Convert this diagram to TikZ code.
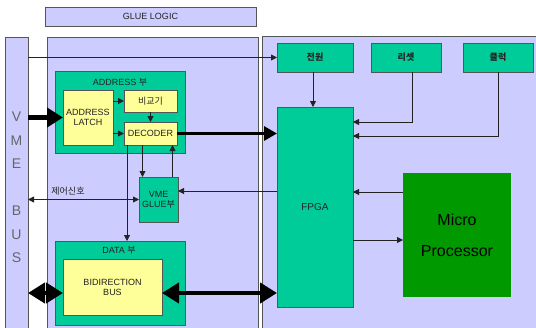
\documentclass[tikz,border=0pt]{standalone}
\usepackage{fontspec}
\setmainfont{Liberation Sans}
\newfontfamily\kr{Noto Sans CJK KR}
\usetikzlibrary{arrows.meta}
\definecolor{lav}{HTML}{CCCCFF}
\definecolor{tgreen}{HTML}{00CC99}
\definecolor{ylw}{HTML}{FFFF99}
\definecolor{dgreen}{HTML}{009900}
\definecolor{edge}{HTML}{555555}
\definecolor{txt}{HTML}{222222}
\begin{document}
\begin{tikzpicture}[x=1pt,y=-1pt,
  every node/.style={inner sep=0pt,outer sep=0pt,anchor=north west,align=center,text=txt,font=\fontsize{9}{10}\selectfont},
  panel/.style={draw=edge,line width=0.9pt,fill=lav},
  gbox/.style={draw=edge,line width=0.8pt,fill=tgreen},
  ybox/.style={draw=edge,line width=0.8pt,fill=ylw},
  thin/.style={draw=txt,line width=0.8pt,-{Triangle[length=6pt,width=6pt]}},
  thinboth/.style={draw=txt,line width=0.8pt,{Triangle[length=6pt,width=6pt]}-{Triangle[length=6pt,width=6pt]}},
  thick/.style={draw=black,line width=3pt,-{Triangle[length=13pt,width=14pt]}},
  thicker/.style={draw=black,line width=4.5pt,-{Triangle[length=16pt,width=19pt]}},
  thickboth/.style={draw=black,line width=4.5pt,{Triangle[length=17pt,width=20pt]}-{Triangle[length=17pt,width=20pt]}}
]
\useasboundingbox (0,0) rectangle (536,327);
\fill[white] (0,0) rectangle (536,327);
% panels
\node[panel,minimum width=211pt,minimum height=19pt] (glue) at (45,7) {GLUE LOGIC};
\node[panel,minimum width=23pt,minimum height=295pt] (vme) at (5,37) {};
\node[panel,minimum width=211pt,minimum height=295pt] (mid) at (47,37) {};
\node[panel,minimum width=280pt,minimum height=295pt] (right) at (262,36) {};
\node[anchor=center,text=black!60,font=\fontsize{14}{23.5}\selectfont] (vmetext) at (16.5,187.5) {V\\M\\E\\[23.5pt]B\\U\\S};
% left blocks
\node[gbox,minimum width=130pt,minimum height=82pt] (addr) at (55,71) {};
\node[anchor=center] (addrlbl) at (120,82) {ADDRESS {\kr 부}};
\node[ybox,minimum width=50pt,minimum height=55pt] (latch) at (63,90) {ADDRESS\\LATCH};
\node[ybox,minimum width=53pt,minimum height=22pt] (cmp) at (124,90) {\kr 비교기};
\node[ybox,minimum width=53pt,minimum height=23pt] (dec) at (124,122) {DECODER};
\node[gbox,minimum width=39pt,minimum height=45pt] (vglue) at (139,177) {VME\\GLUE{\kr 부}};
\node[anchor=center] (ctrl) at (68,191) {\kr 제어신호};
\node[gbox,minimum width=130pt,minimum height=84pt] (data) at (55,241) {};
\node[anchor=center] (datalbl) at (119,250) {DATA {\kr 부}};
\node[ybox,minimum width=99pt,minimum height=56pt] (bidir) at (63,259) {BIDIRECTION\\BUS};
% right blocks
\node[gbox,minimum width=76pt,minimum height=29pt] (pwr) at (277,43) {\kr\bfseries 전원};
\node[gbox,minimum width=70pt,minimum height=29pt] (rst) at (371,43) {\kr\bfseries 리셋};
\node[gbox,minimum width=70pt,minimum height=29pt] (clk) at (463,43) {\kr\bfseries 클럭};
\node[gbox,minimum width=76pt,minimum height=200pt,font=\fontsize{10}{12}\selectfont] (fpga) at (277,107) {FPGA};
\node[draw=none,fill=dgreen,minimum width=108pt,minimum height=124pt,text=black,font=\fontsize{16}{31}\selectfont] (mp) at (403,173) {Micro\\Processor};
% connectors
\draw[thin] (vme.east |- pwr.west) -- (pwr.west);
\draw[thicker] (vme.east |- latch.west) -- (latch.west);
\draw[thin] (latch.east |- cmp.west) -- (cmp.west);
\draw[thin] (latch.east |- dec.west) -- (dec.west);
\draw[thin] (cmp.south) -- (dec.north);
\draw[thick] (dec.east) -- (dec.east -| fpga.west);
\draw[thin] ([xshift=-23.5pt]dec.south) -- ([xshift=-23.5pt]dec.south |- data.north);
\draw[thin] ([xshift=-8pt]dec.south) -- ([xshift=-8pt]dec.south |- vglue.north);
\draw[thin] ([xshift=14pt]vglue.north) -- ([xshift=14pt]vglue.north |- dec.south);
\draw[thinboth] (vme.east |- vglue.west) -- (vglue.west);
\draw[thin] (fpga.west |- 0,191) -- (vglue.east |- 0,191);
\draw[thin] (pwr.south -| 313,0) -- (fpga.north -| 313,0);
\draw[thin] ([xshift=6pt]rst.south) -- ([xshift=6pt]rst.south |- 0,122) -- (fpga.east |- 0,122);
\draw[thin] (clk.south) -- (clk.south |- 0,136) -- (fpga.east |- 0,136);
\draw[thin] (mp.west |- 0,192) -- (fpga.east |- 0,192);
\draw[thin] (fpga.east |- 0,240) -- (mp.west |- 0,240);
\draw[thickboth] (vme.east |- 0,293) -- (bidir.west |- 0,293);
\draw[thickboth] (bidir.east |- 0,293) -- (fpga.west |- 0,293);
\end{tikzpicture}
\end{document}
